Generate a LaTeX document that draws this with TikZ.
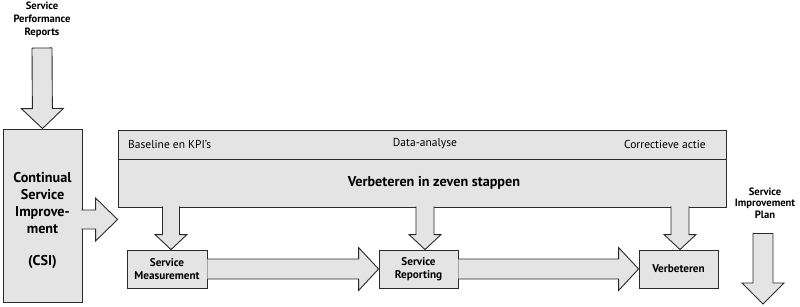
\documentclass[tikz,border=0pt]{standalone}
\usepackage{fontspec}
\setmainfont{PT Sans}
\usetikzlibrary{calc}
\definecolor{boxgray}{HTML}{E4E4E4}
\definecolor{linegray}{HTML}{2A2A2A}
\tikzset{
  box/.style={draw=linegray, fill=boxgray, line width=0.9pt, inner sep=0pt, align=center},
  blockfill/.style={fill=boxgray},
  blockline/.style={draw=linegray, line width=0.9pt, line join=miter},
  boxlbl/.style={inner sep=0pt, align=center, font=\fontsize{11.2}{12.5}\selectfont\bfseries},
  toplbl/.style={inner sep=0pt, align=center, font=\fontsize{10.6}{13}\selectfont\bfseries},
  hdr/.style={inner sep=0pt, font=\fontsize{11.5}{13}\selectfont},
  csilbl/.style={inner sep=0pt, align=center, font=\fontsize{14.2}{17.3}\selectfont\bfseries},
}
% block arrow: #1 start, #2 end, #3 shaft half width, #4 head half width, #5 head length
\newcommand\blkarrowopen[5]{%
  \coordinate (bah) at ($(#2)!#5!(#1)$);
  \coordinate (ba1) at ($(#1)!#3!90:(#2)$);
  \coordinate (ba2) at ($(bah)!#3!90:(#2)$);
  \coordinate (ba3) at ($(bah)!#4!90:(#2)$);
  \coordinate (ba5) at ($(bah)!#4!-90:(#2)$);
  \coordinate (ba6) at ($(bah)!#3!-90:(#2)$);
  \coordinate (ba7) at ($(#1)!#3!-90:(#2)$);
  \fill[blockfill] (ba1) -- (ba2) -- (ba3) -- (#2) -- (ba5) -- (ba6) -- (ba7) -- cycle;
  \draw[blockline] (ba1) -- (ba2) -- (ba3) -- (#2) -- (ba5) -- (ba6) -- (ba7);
}
\newcommand\blkarrowclosed[5]{%
  \blkarrowopen{#1}{#2}{#3}{#4}{#5}%
  \draw[blockline] (ba7) -- (ba1);
}
\begin{document}
\begin{tikzpicture}[x=1pt,y=-1pt]
  \path[fill=white,use as bounding box] (0,0) rectangle (800,307);

  % boxes
  \node[box, minimum width=79pt, minimum height=173pt] (csi) at (42.5,215.5) {};
  \node[box, minimum width=608pt, minimum height=77pt] (big) at (422,168.5) {};
  \draw[blockline] (big.west |- 0,159) -- (big.east |- 0,159);
  \node[box, minimum width=80pt, minimum height=38pt] (sm) at (167,269) {};
  \node[box, minimum width=79pt, minimum height=38pt] (sr) at (418.5,269) {};
  \node[box, minimum width=79pt, minimum height=38pt] (vb) at (678.5,269) {};

  % texts
  \node[toplbl] (spr) at (42,20) {Service\\Performance\\Reports};
  \node[csilbl] (csit) at (42.5,203) {Continual\\Service\\Improve-\\ment};
  \node[csilbl] (csiab) at (42.5,262) {(CSI)};
  \node[hdr, anchor=west] (h1) at (128,144) {Baseline en KPI’s};
  \node[hdr] (h2) at (425,144) {Data-analyse};
  \node[hdr, anchor=east] (h3) at (706,144) {Correctieve actie};
  \node[inner sep=0pt, font=\fontsize{14.2}{16}\selectfont\bfseries] (title) at (434,183) {Verbeteren in zeven stappen};
  \node[boxlbl] (smt) at (sm) {Service\\Measurement};
  \node[boxlbl] (srt) at (sr) {Service\\Reporting};
  \node[boxlbl] (vbt) at (vb) {Verbeteren};
  \node[inner sep=0pt, align=center, font=\fontsize{10.6}{11.3}\selectfont\bfseries] (sip) at (765,203) {Service\\Improvement\\Plan};

  % arrow anchors
  \coordinate (a1s) at (42,48);
  \coordinate (a1e) at (csi.north);
  \coordinate (a2s) at ($(csi.east |- 0,219.5)+(-1,0)$);
  \coordinate (a2e) at (big.west |- 0,219.5);
  \coordinate (d1s) at ($(big.south -| 171,0)+(0,-1)$);
  \coordinate (d1e) at (sm.north -| 171,0);
  \coordinate (d2s) at ($(big.south -| 425,0)+(0,-1)$);
  \coordinate (d2e) at (sr.north -| 425,0);
  \coordinate (d3s) at ($(big.south -| 680,0)+(0,-1)$);
  \coordinate (d3e) at (vb.north -| 680,0);
  \coordinate (hs1) at (sm.east);
  \coordinate (hs2) at (sr.east);
  \coordinate (pe) at (763,304);
  \coordinate (ps) at (763,233);

  % arrows
  \blkarrowclosed{a1s}{a1e}{10pt}{21pt}{20pt}
  \blkarrowopen{a2s}{a2e}{9.5pt}{21.5pt}{22pt}
  \blkarrowopen{d1s}{d1e}{8.5pt}{16pt}{15pt}
  \blkarrowopen{d2s}{d2e}{9pt}{16pt}{15pt}
  \blkarrowopen{d3s}{d3e}{9pt}{16pt}{15pt}
  \blkarrowopen{hs1}{sr.west}{10pt}{21.5pt}{20pt}
  \blkarrowopen{hs2}{vb.west}{10pt}{21.5pt}{20pt}
  \blkarrowclosed{ps}{pe}{10pt}{21pt}{21pt}
\end{tikzpicture}
\end{document}
